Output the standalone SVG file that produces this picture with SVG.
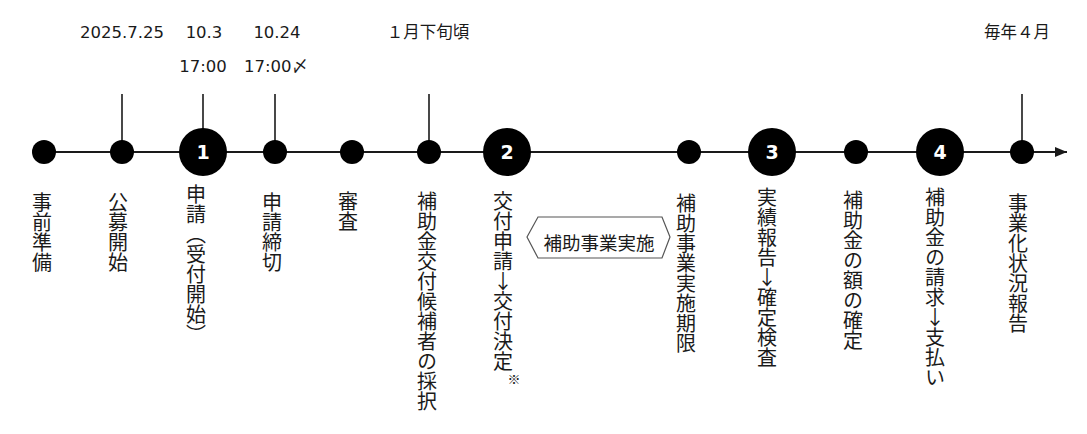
<svg xmlns="http://www.w3.org/2000/svg" width="1087" height="434" viewBox="0 0 1087 434">
<defs>
<style>
.line{stroke:#1a1a1a;stroke-width:2;fill:none}
.tick{stroke:#1a1a1a;stroke-width:1.6;fill:none}
.dot{fill:#000}
.num{fill:#fff;font-family:"DejaVu Sans","Liberation Sans",sans-serif;font-weight:bold;font-size:19px;text-anchor:middle}
.top{fill:#1a1a1a;font-family:"DejaVu Sans","Noto Sans CJK JP",sans-serif;font-size:16.5px;text-anchor:middle}
.topj{fill:#1a1a1a;font-family:"Noto Sans CJK JP",sans-serif;font-size:16.5px;text-anchor:middle}
.vt{fill:#1a1a1a;font-family:"Noto Sans CJK JP",sans-serif;font-size:20px;writing-mode:vertical-rl;text-orientation:mixed}
.vtu{fill:#1a1a1a;font-family:"Noto Sans CJK JP",sans-serif;font-size:20px;writing-mode:vertical-rl;text-orientation:upright}
.hex{fill:#fff;stroke:#555;stroke-width:1.2}
.hext{fill:#1a1a1a;font-family:"Noto Sans CJK JP",sans-serif;font-size:18.5px;text-anchor:middle}
.note{fill:#1a1a1a;font-family:"Noto Sans CJK JP",sans-serif;font-size:13px;text-anchor:middle}
</style>
<marker id="arr" viewBox="0 0 12 10" refX="12" refY="5" markerWidth="12" markerHeight="10" markerUnits="userSpaceOnUse" orient="auto">
<path d="M0,0 L12,5 L0,10 Z" fill="#1a1a1a"/>
</marker>
</defs>

<g id="connectors">
<line class="line" x1="44" y1="152" x2="1067" y2="152" marker-end="url(#arr)"/>
<line class="tick" x1="122" y1="94" x2="122" y2="152"/>
<line class="tick" x1="203" y1="94" x2="203" y2="152"/>
<line class="tick" x1="275" y1="94" x2="275" y2="152"/>
<line class="tick" x1="429" y1="94" x2="429" y2="152"/>
<line class="tick" x1="1022" y1="94" x2="1022" y2="152"/>
</g>

<g id="top-labels">
<text class="top" x="122" y="38">2025.7.25</text>
<text class="top" x="204" y="38">10.3</text>
<text class="top" x="203" y="72">17:00</text>
<text class="top" x="277" y="38">10.24</text>
<text class="top" x="276" y="72">17:00〆</text>
<text class="topj" x="428" y="38">１月下旬頃</text>
<text class="topj" x="1017" y="38">毎年４月</text>
</g>

<g id="n-jizen"><circle class="dot" cx="44" cy="152" r="12"/><text class="vt" x="42" y="192">事前準備</text></g>
<g id="n-koubo"><circle class="dot" cx="122" cy="152" r="12"/><text class="vt" x="118" y="192">公募開始</text></g>
<g id="n-shinsei"><circle class="dot" cx="203" cy="152" r="24"/><text class="num" x="203" y="159">1</text><text class="vt" x="196" y="184">申請（受付開始）</text></g>
<g id="n-shimekiri"><circle class="dot" cx="275" cy="152" r="12"/><text class="vt" x="272" y="192">申請締切</text></g>
<g id="n-shinsa"><circle class="dot" cx="352" cy="152" r="12"/><text class="vt" x="348" y="191">審査</text></g>
<g id="n-saitaku"><circle class="dot" cx="429" cy="152" r="12"/><text class="vt" x="427" y="191">補助金交付候補者の採択</text></g>
<g id="n-koufu"><circle class="dot" cx="507" cy="152" r="24"/><text class="num" x="507" y="159">2</text><text class="vtu" x="503" y="191">交付申請↓交付決定</text><text class="note" x="514" y="384">※</text></g>
<g id="n-jisshi">
<polygon class="hex" points="527,237 538,217 662,217 670,237 662,258 538,258"/>
<text class="hext" x="599" y="250">補助事業実施</text>
</g>
<g id="n-kigen"><circle class="dot" cx="689" cy="152" r="12"/><text class="vt" x="686" y="193">補助事業実施期限</text></g>
<g id="n-houkoku"><circle class="dot" cx="772" cy="152" r="24"/><text class="num" x="772" y="159">3</text><text class="vtu" x="767" y="187">実績報告↓確定検査</text></g>
<g id="n-kakutei"><circle class="dot" cx="856" cy="152" r="12"/><text class="vt" x="853" y="190">補助金の額の確定</text></g>
<g id="n-seikyu"><circle class="dot" cx="940" cy="152" r="24"/><text class="num" x="940" y="159">4</text><text class="vtu" x="935" y="187">補助金の請求↓支払い</text></g>
<g id="n-jigyouka"><circle class="dot" cx="1022" cy="152" r="12"/><text class="vt" x="1018" y="193">事業化状況報告</text></g>
</svg>
